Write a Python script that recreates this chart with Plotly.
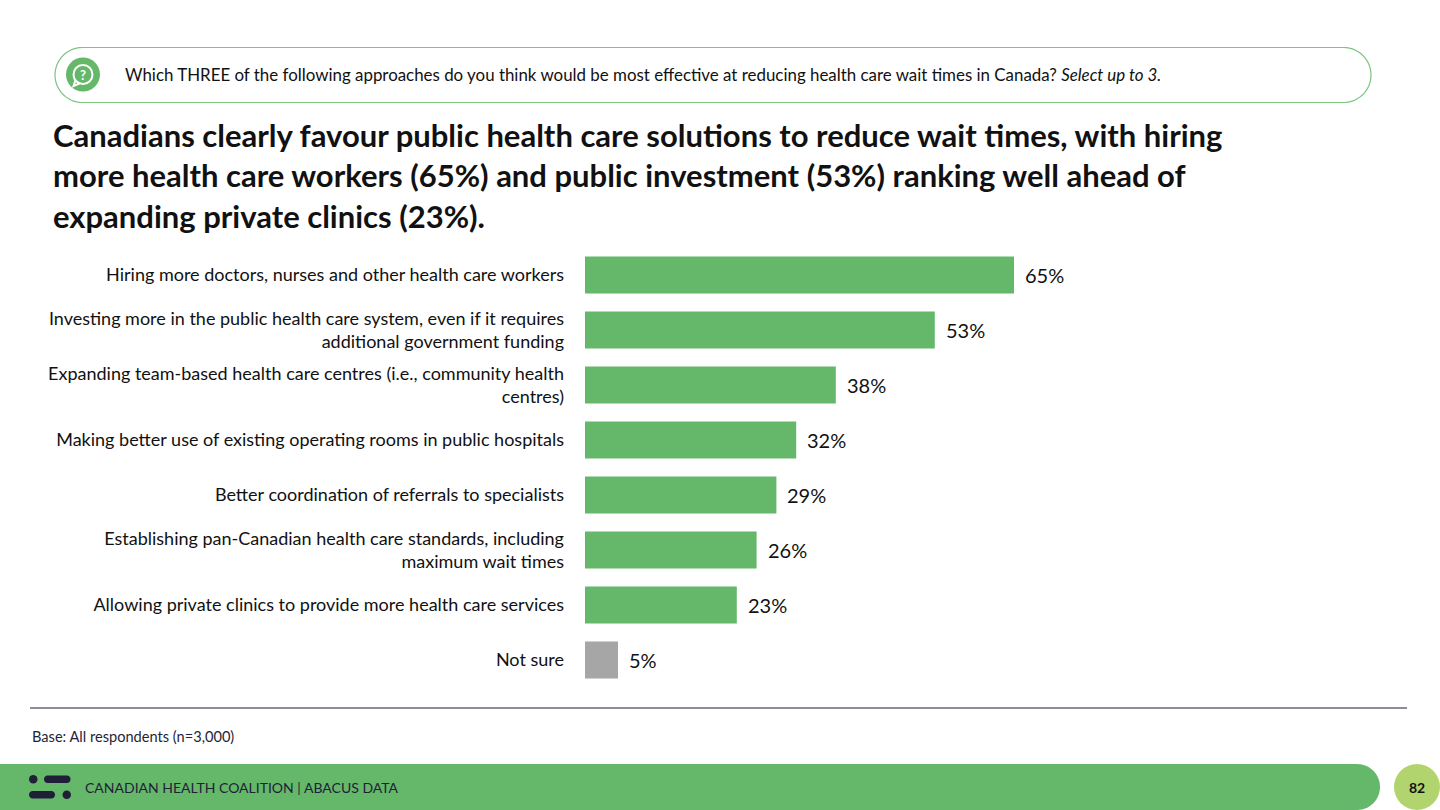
import numpy as np
import plotly.graph_objects as go

W, H = 1440, 810

# data
categories = [
    "Hiring more doctors, nurses and other health care workers",
    "Investing more in the public health care system, even if it requires<br>additional government funding",
    "Expanding team-based health care centres (i.e., community health<br>centres)",
    "Making better use of existing operating rooms in public hospitals",
    "Better coordination of referrals to specialists",
    "Establishing pan-Canadian health care standards, including<br>maximum wait times",
    "Allowing private clinics to provide more health care services",
    "Not sure",
]
values = [65, 53, 38, 32, 29, 26, 23, 5]
bar_colors = ["#65b76a"] * 7 + ["#a6a6a6"]

title_lines = [
    "Canadians clearly favour public health care solutions to reduce wait times, with hiring",
    "more health care workers (65%) and public investment (53%) ranking well ahead of",
    "expanding private clinics (23%).",
]

GREEN = "#65b76a"
NAVY = "#1f1f38"
FONT = "Lato"


def px(x):
    return x / W


def py(y):
    return 1 - y / H


def pill_path(x0, y0, x1, y1, r, round_left=True):
    # rounded rectangle (pill) as polygon in paper coords
    pts = []
    for a in np.linspace(-np.pi / 2, np.pi / 2, 30):
        pts.append((x1 - r + r * np.cos(a), (y0 + y1) / 2 + r * np.sin(a)))
    if round_left:
        for a in np.linspace(np.pi / 2, 3 * np.pi / 2, 30):
            pts.append((x0 + r + r * np.cos(a), (y0 + y1) / 2 + r * np.sin(a)))
    else:
        pts.append((x0, y1))
        pts.append((x0, y0))
    return "M " + " L ".join(f"{px(x):.5f},{py(y):.5f}" for x, y in pts) + " Z"


fig = go.Figure()

fig.add_trace(go.Bar(
    x=values,
    y=categories,
    orientation="h",
    marker=dict(color=bar_colors, line=dict(width=0)),
    hoverinfo="skip",
))

# value labels
for c, v in zip(categories, values):
    fig.add_annotation(
        x=v, y=c, xref="x", yref="y", text=f"{v}%", showarrow=False,
        xanchor="left", xshift=9, font=dict(family=FONT, size=20, color="#111111"),
    )

shapes = []
# question box
shapes.append(dict(type="path", xref="paper", yref="paper",
                   path=pill_path(55, 47.5, 1371, 102.5, 27.5),
                   line=dict(color="#7cc47f", width=1.2), fillcolor="rgba(0,0,0,0)", layer="below"))
# question icon
shapes.append(dict(type="circle", xref="paper", yref="paper",
                   x0=px(66), x1=px(100), y0=py(91.5), y1=py(57.5),
                   fillcolor=GREEN, line=dict(width=0), layer="below"))
shapes.append(dict(type="circle", xref="paper", yref="paper",
                   x0=px(73.5), x1=px(92.5), y0=py(84), y1=py(65),
                   fillcolor="rgba(0,0,0,0)", line=dict(color="white", width=2), layer="below"))
shapes.append(dict(type="path", xref="paper", yref="paper",
                   path=f"M {px(75.5):.5f},{py(80):.5f} L {px(73.5):.5f},{py(86):.5f} L {px(79.5):.5f},{py(83.5):.5f}",
                   line=dict(color="white", width=2), layer="below"))
# separator line
shapes.append(dict(type="line", xref="paper", yref="paper",
                   x0=px(30), x1=px(1407), y0=py(708), y1=py(708),
                   line=dict(color=NAVY, width=1.2)))
# footer bar
shapes.append(dict(type="path", xref="paper", yref="paper",
                   path=pill_path(0, 764, 1380, 810, 23, round_left=False),
                   line=dict(width=0), fillcolor=GREEN))
# page number circle
shapes.append(dict(type="circle", xref="paper", yref="paper",
                   x0=px(1394), x1=px(1440), y0=py(810), y1=py(764),
                   fillcolor="#b2d46e", line=dict(width=0)))
# logo
shapes.append(dict(type="circle", xref="paper", yref="paper",
                   x0=px(29), x1=px(37.5), y0=py(783.5), y1=py(775),
                   fillcolor=NAVY, line=dict(width=0)))
shapes.append(dict(type="path", xref="paper", yref="paper",
                   path=pill_path(44, 775.5, 70.5, 783, 3.75),
                   fillcolor=NAVY, line=dict(width=0)))
shapes.append(dict(type="path", xref="paper", yref="paper",
                   path=pill_path(29, 791, 55, 798.5, 3.75),
                   fillcolor=NAVY, line=dict(width=0)))
shapes.append(dict(type="circle", xref="paper", yref="paper",
                   x0=px(62.5), x1=px(71), y0=py(799), y1=py(790.5),
                   fillcolor=NAVY, line=dict(width=0)))

annotations = [
    dict(x=px(83), y=py(74.5), xanchor="center", text="<b>?</b>",
         font=dict(family=FONT, size=13, color="white")),
    dict(x=px(123), y=py(74.5), xanchor="left",
         text="Which THREE of the following approaches do you think would be most effective at reducing health care wait times in Canada? <i>Select up to 3.</i>",
         font=dict(family=FONT, size=16.9, color="#111111")),
    dict(x=px(51), y=py(176), xanchor="left", align="left",
         text="<b>" + "<br>".join(title_lines) + "</b>",
         font=dict(family=FONT, size=31, color="#111111")),
    dict(x=px(30), y=py(736), xanchor="left", text="Base: All respondents (n=3,000)",
         font=dict(family=FONT, size=14.6, color=NAVY)),
    dict(x=px(83), y=py(787.5), xanchor="left", text="CANADIAN HEALTH COALITION | ABACUS DATA",
         font=dict(family=FONT, size=14, color=NAVY)),
    dict(x=px(1417), y=py(787.5), xanchor="center", text="<b>82</b>",
         font=dict(family=FONT, size=14, color="#111111")),
]
for a in annotations:
    a.update(xref="paper", yref="paper", showarrow=False, yanchor="middle")

fig.update_layout(
    width=W, height=H,
    margin=dict(l=0, r=0, t=0, b=0),
    paper_bgcolor="white", plot_bgcolor="white",
    showlegend=False,
    bargap=0.33,
    shapes=shapes,
    annotations=list(fig.layout.annotations) + annotations,
    xaxis=dict(domain=[px(585), px(1245)], range=[0, 100], visible=False, fixedrange=True),
    yaxis=dict(domain=[py(687.5), py(247.5)], autorange="reversed",
               showgrid=False, showline=False, zeroline=False, ticks="",
               ticklabelstandoff=20, fixedrange=True,
               tickfont=dict(family=FONT, size=18, color="#111111")),
)

# page default body margin shifts the plot by 8px
fig.write_html("out.html", config={"displayModeBar": False},
               post_script="document.body.style.margin='0';")
